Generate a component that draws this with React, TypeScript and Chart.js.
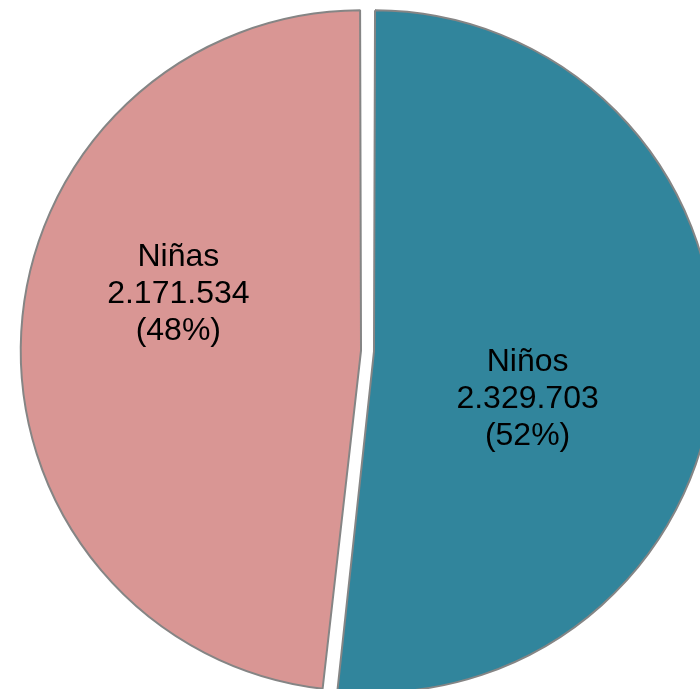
import React, { useEffect, useRef } from "react";
import { Chart, registerables } from "chart.js";

Chart.register(...registerables);

const categories: string[] = ["Niños", "Niñas"];
const values: number[] = [2329703, 2171534];
const sliceColors: string[] = ["#31859C", "#D99694"];

// label placement (style): angular shift from slice mid-angle (deg) and radius fraction
const labelAngleShift: number[] = [12.7, 14.2];
const labelRadiusFrac: number[] = [0.4975, 0.5925];

const FONT_SIZE = 32;
const LINE_GAP = 37;

function formatThousands(n: number): string {
  return String(n).replace(/\B(?=(\d{3})+(?!\d))/g, ".");
}

const labelPlugin = {
  id: "sliceLabels",
  afterDatasetsDraw(chart: any) {
    const ctx = chart.ctx;
    const meta = chart.getDatasetMeta(0);
    const data: number[] = chart.data.datasets[0].data;
    const total = data.reduce((a, b) => a + b, 0);
    ctx.save();
    ctx.font = `${FONT_SIZE}px "Liberation Sans", Arial, sans-serif`;
    ctx.fillStyle = "#000000";
    ctx.textAlign = "center";
    ctx.textBaseline = "alphabetic";
    meta.data.forEach((arc: any, i: number) => {
      const { x, y, startAngle, endAngle, outerRadius } = arc.getProps(
        ["x", "y", "startAngle", "endAngle", "outerRadius"],
        true
      );
      const mid = (startAngle + endAngle) / 2 + (labelAngleShift[i] * Math.PI) / 180;
      const r = outerRadius * labelRadiusFrac[i];
      const cx = x + Math.cos(mid) * r;
      const cy = y + Math.sin(mid) * r;
      const lines = [
        String(chart.data.labels[i]),
        formatThousands(data[i]),
        `(${Math.round((data[i] / total) * 100)}%)`,
      ];
      const base = cy + FONT_SIZE * 0.358;
      lines.forEach((t, k) => {
        ctx.fillText(t, cx, base + (k - 1) * LINE_GAP);
      });
    });
    ctx.restore();
  },
};

export default function App() {
  const ref = useRef<HTMLCanvasElement | null>(null);
  useEffect(() => {
    if (!ref.current) return;
    const chart = new Chart(ref.current, {
      type: "pie",
      data: {
        labels: categories,
        datasets: [
          {
            data: values,
            backgroundColor: sliceColors,
            borderColor: "#858585",
            borderWidth: 2,
            offset: 26,
            hoverOffset: 26,
          },
        ],
      },
      options: {
        responsive: false,
        animation: false,
        radius: 334.5,
        layout: { padding: 0 },
        events: [],
        plugins: {
          legend: { display: false },
          tooltip: { enabled: false },
          title: { display: false },
        },
      } as any,
      plugins: [labelPlugin],
    });
    return () => chart.destroy();
  }, []);
  return (
    <div
      style={{
        position: "fixed",
        left: 0,
        top: 0,
        width: 700,
        height: 689,
        overflow: "hidden",
        background: "#ffffff",
      }}
    >
      <canvas ref={ref} width={735} height={702} style={{ display: "block" }} />
    </div>
  );
}
